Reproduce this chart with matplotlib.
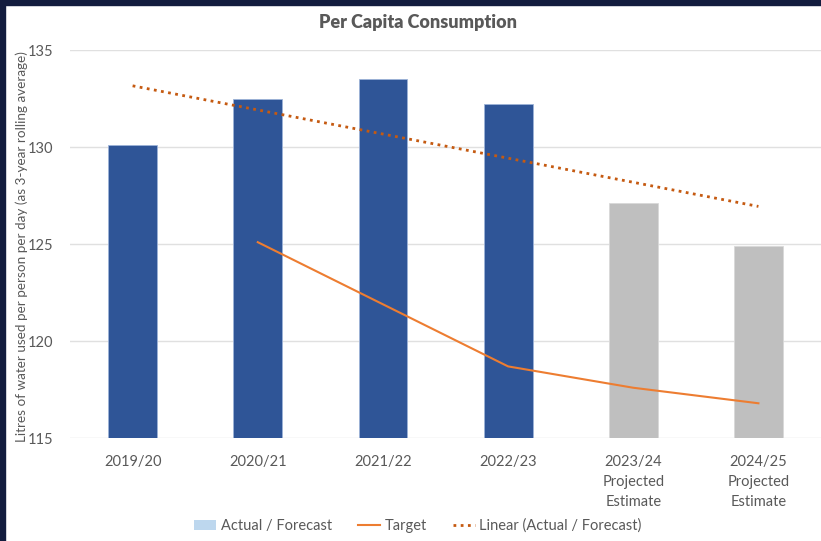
import matplotlib.pyplot as plt
import numpy as np
from matplotlib.patches import Patch, Rectangle
from matplotlib.lines import Line2D

categories = ["2019/20", "2020/21", "2021/22", "2022/23",
              "2023/24\nProjected\nEstimate", "2024/25\nProjected\nEstimate"]
actual = [130.1, 132.5, 133.5, 132.2, 127.1, 124.9]
projected = [False, False, False, False, True, True]
target = [None, 125.1, 121.9, 118.7, 117.6, 116.8]

plt.rcParams['font.family'] = ['Lato', 'DejaVu Sans']
textCol = "#595959"

fig = plt.figure(figsize=(8.21, 5.41), dpi=100)
ax = fig.add_axes([0.0853, 0.190, 0.9147, 0.7175])

x = np.arange(len(categories))
colors = ["#BFBFBF" if p else "#2F5597" for p in projected]
edges = ["#D9D9D9" if p else "#9DB3D8" for p in projected]
ax.bar(x, actual, width=0.39, color=colors, edgecolor=edges, linewidth=0.6, zorder=2)

tx = [i for i, v in enumerate(target) if v is not None]
ty = [v for v in target if v is not None]
ax.plot(tx, ty, color="#ED7D31", linewidth=1.5, zorder=3)

slope, icpt = np.polyfit(x, actual, 1)
ax.plot(x, slope * x + icpt, color="#C55A11", linewidth=2, linestyle=(0, (1, 1.6)), zorder=3)

ax.set_xlim(-0.5, 5.5)
ax.set_ylim(115, 135)
ax.set_yticks([115, 120, 125, 130, 135])
ax.set_xticks(x)
ax.set_xticklabels(categories, linespacing=1.55)
ax.tick_params(length=0, labelsize=10.5, labelcolor=textCol)
ax.tick_params(axis="y", pad=12)
ax.tick_params(axis="x", pad=12)
ax.grid(axis="y", color="#E0E0E0", linewidth=1, zorder=0)
ax.set_axisbelow(True)
for s in ax.spines.values():
    s.set_visible(False)

fig.text(0.509, 0.958, "Per Capita Consumption", ha="center", va="center",
         fontsize=13, fontweight="heavy", color=textCol)
fig.text(0.026, 0.545, "Litres of water used per person per day (as 3-year rolling average)",
         rotation=90, ha="center", va="center", fontsize=9.7, color=textCol)

handles = [Patch(facecolor="#BDD7EE", edgecolor="none"),
           Line2D([], [], color="#ED7D31", linewidth=1.5),
           Line2D([], [], color="#C55A11", linewidth=2, linestyle=(0, (1, 1.6)))]
labels = ["Actual / Forecast", "Target", "Linear (Actual / Forecast)"]
fig.legend(handles, labels, loc="center", bbox_to_anchor=(0.509, 0.028), ncol=3,
           frameon=False, fontsize=10.5, labelcolor=textCol, handlelength=1.5,
           handletextpad=0.3, columnspacing=1.8)

# dark frame along top and left edges
fig.patches.append(Rectangle((0, 0.991), 1, 0.009, transform=fig.transFigure,
                             color="#131C3E", zorder=10))
fig.patches.append(Rectangle((0, 0), 0.006, 1, transform=fig.transFigure,
                             color="#131C3E", zorder=10))

fig.savefig("out.png", dpi=100)
